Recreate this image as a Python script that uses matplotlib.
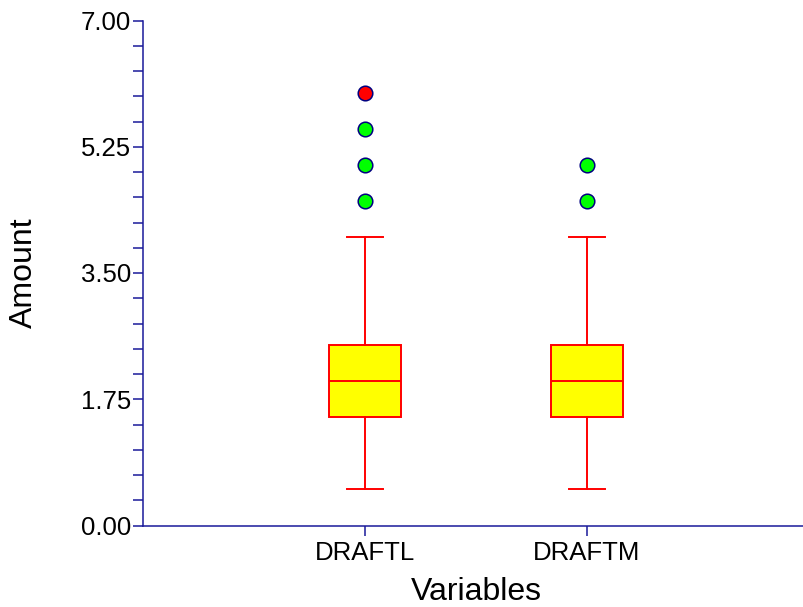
import matplotlib
matplotlib.use("Agg")
import matplotlib.pyplot as plt
from matplotlib.ticker import MultipleLocator, FixedLocator

categories = ["DRAFTL", "DRAFTM"]
q1 = [1.5, 1.5]
median = [2.0, 2.0]
q3 = [2.5, 2.5]
whisker_low = [0.5, 0.5]
whisker_high = [4.0, 4.0]
near_outliers = [[4.5, 5.0, 5.5], [4.5, 5.0]]
far_outliers = [[6.0], []]
yticks = [0.0, 1.75, 3.50, 5.25, 7.00]

plt.rcParams['font.family'] = ['Liberation Sans', 'DejaVu Sans']

fig = plt.figure(figsize=(8.04, 6.07), dpi=100)
ax = fig.add_axes([143/804, (607-525.5)/607, (809-143)/804, (525.5-20.5)/607])

positions = list(range(1, len(categories) + 1))
stats = []
for i, name in enumerate(categories):
    stats.append(dict(label=name, q1=q1[i], med=median[i], q3=q3[i],
                      whislo=whisker_low[i], whishi=whisker_high[i], fliers=[]))

red = "#FF0000"
ax.bxp(stats, positions=positions, widths=0.32, showfliers=False, patch_artist=True,
       boxprops=dict(facecolor="#FFFF00", edgecolor=red, linewidth=1.4),
       medianprops=dict(color=red, linewidth=1.4),
       whiskerprops=dict(color=red, linewidth=1.4),
       capprops=dict(color=red, linewidth=1.4),
       capwidths=0.16)

for p, vals in zip(positions, near_outliers):
    ax.plot([p] * len(vals), vals, linestyle="none", marker="o", markersize=10.5,
            markerfacecolor="#00FF00", markeredgecolor="#000080", markeredgewidth=1.1,
            zorder=5)
for p, vals in zip(positions, far_outliers):
    if vals:
        ax.plot([p] * len(vals), vals, linestyle="none", marker="o", markersize=10.5,
                markerfacecolor="#FF0000", markeredgecolor="#000080", markeredgewidth=1.1,
                zorder=5)

ax.set_xlim(0, 3)
ax.set_ylim(0, 7)
ax.set_xticks(positions)
ax.set_xticklabels(categories)
ax.yaxis.set_major_locator(FixedLocator(yticks))
ax.set_yticklabels([f"{v:.2f}" for v in yticks])
ax.yaxis.set_minor_locator(MultipleLocator(0.35))

navy = "#1a1a9a"
for s in ["top", "right"]:
    ax.spines[s].set_visible(False)
for s in ["left", "bottom"]:
    ax.spines[s].set_color(navy)
    ax.spines[s].set_linewidth(1.1)

ax.tick_params(axis="both", which="both", direction="out", color=navy, width=1.1,
               length=7, labelsize=18.5, labelcolor="black")
ax.tick_params(axis="y", pad=1.5)
ax.tick_params(axis="x", pad=4)
ax.tick_params(axis="x", which="minor", bottom=False)

ax.set_xlabel("Variables", fontsize=23, labelpad=9)
ax.set_ylabel("Amount", fontsize=23, labelpad=30)
ax.patch.set_alpha(0)

fig.savefig("out.png", dpi=100)
